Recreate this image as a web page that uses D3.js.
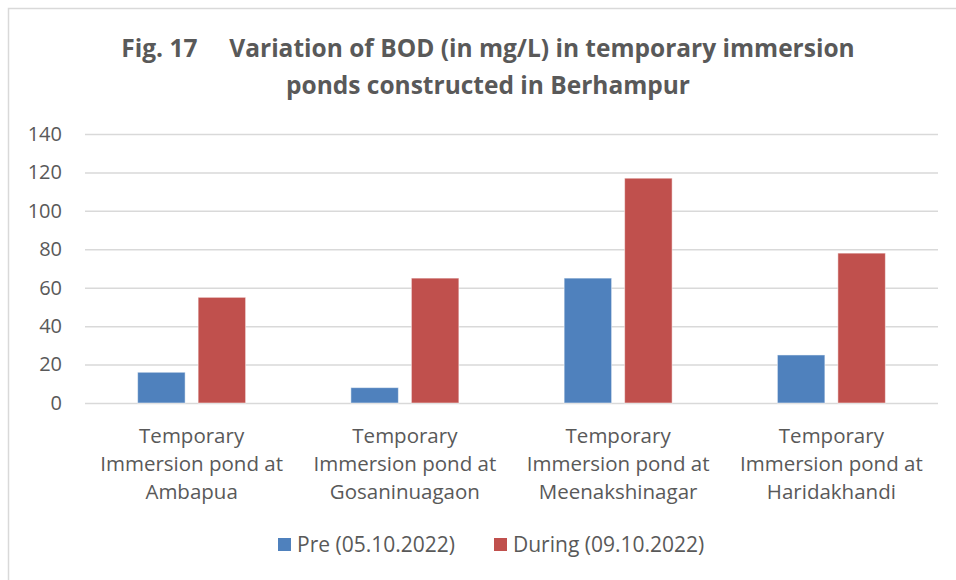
<!DOCTYPE html>
<html>
<head>
<meta charset="utf-8">
<script src="https://cdn.jsdelivr.net/npm/d3@7"></script>
<style>
  html, body { margin: 0; padding: 0; background: #fff; }
  svg { display: block; }
  text { font-family: "Open Sans", "Noto Sans", sans-serif; fill: #595959; }
</style>
</head>
<body>
<svg id="chart" width="956" height="580"></svg>
<script>
const categories = [
  ["Temporary", "Immersion pond at", "Ambapua"],
  ["Temporary", "Immersion pond at", "Gosaninuagaon"],
  ["Temporary", "Immersion pond at", "Meenakshinagar"],
  ["Temporary", "Immersion pond at", "Haridakhandi"]
];
const categoryKeys = ["Ambapua", "Gosaninuagaon", "Meenakshinagar", "Haridakhandi"];
const seriesNames = ["Pre (05.10.2022)", "During (09.10.2022)"];
const preValues = [16, 8, 65, 25];
const duringValues = [55, 65, 117, 78];
const yTicks = [0, 20, 40, 60, 80, 100, 120, 140];
const titleLines = ["Fig. 17     Variation of BOD (in mg/L) in temporary immersion", "ponds constructed in Berhampur"];
const colors = ["#4f81bd", "#c0504d"];

const svg = d3.select("#chart");
const W = 956, H = 580;
const margin = { left: 85, right: 18, top: 134, bottom: 177 };

// outer frame
svg.append("rect")
  .attr("x", 8.5).attr("y", 8.5)
  .attr("width", W + 10).attr("height", H + 10)
  .attr("fill", "#fff").attr("stroke", "#d9d9d9").attr("stroke-width", 1.5);

// title
const title = svg.append("text")
  .attr("text-anchor", "middle")
  .attr("font-weight", "bold")
  .attr("font-size", 24.5)
  .style("white-space", "pre")
  .attr("xml:space", "preserve");
titleLines.forEach((t, i) => {
  title.append("tspan").attr("x", 488).attr("y", 57 + i * 37).text(t);
});

const x0 = d3.scaleBand().domain(categoryKeys).range([margin.left, W - margin.right]).paddingInner(0).paddingOuter(0);
const x1 = d3.scaleBand().domain([0, 1]).range([0, x0.bandwidth()]).paddingInner(0.215).paddingOuter(0.87);
const y = d3.scaleLinear().domain([0, 140]).range([H - margin.bottom, margin.top]);

// gridlines
svg.append("g")
  .attr("transform", `translate(${margin.left},0)`)
  .call(d3.axisLeft(y).tickValues(yTicks).tickSize(-(W - margin.left - margin.right)).tickFormat(""))
  .call(g => g.select(".domain").remove())
  .call(g => g.selectAll("line").attr("stroke", "#d9d9d9").attr("stroke-width", 1.5));

// y labels
svg.append("g")
  .attr("transform", `translate(${margin.left},0)`)
  .call(d3.axisLeft(y).tickValues(yTicks).tickSize(0).tickPadding(23))
  .call(g => g.select(".domain").remove())
  .call(g => g.selectAll("text").attr("font-size", 20).attr("fill", "#595959")
    .style("font-family", '"Open Sans", sans-serif'));

// bars
const data = categoryKeys.map((k, i) => ({ key: k, vals: [preValues[i], duringValues[i]] }));
const groups = svg.append("g").selectAll("g").data(data).join("g")
  .attr("transform", d => `translate(${x0(d.key)},0)`);
groups.selectAll("rect").data(d => d.vals.map((v, s) => ({ v, s }))).join("rect")
  .attr("x", d => x1(d.s))
  .attr("width", x1.bandwidth())
  .attr("y", d => y(d.v))
  .attr("height", d => y(0) - y(d.v))
  .attr("fill", d => colors[d.s])
  .attr("stroke", "#fff").attr("stroke-opacity", 0.5).attr("stroke-width", 1);

// x labels
const xl = svg.append("g");
categories.forEach((lines, i) => {
  const cx = x0(categoryKeys[i]) + x0.bandwidth() / 2;
  const t = xl.append("text").attr("text-anchor", "middle").attr("font-size", 20.5);
  lines.forEach((ln, j) => {
    t.append("tspan").attr("x", cx).attr("y", 443 + j * 28).text(ln);
  });
});

// legend
const legend = svg.append("g");
const legendX = [278, 494];
seriesNames.forEach((n, i) => {
  legend.append("rect").attr("x", legendX[i]).attr("y", 538).attr("width", 13).attr("height", 13).attr("fill", colors[i]);
  legend.append("text").attr("x", legendX[i] + 19).attr("y", 552).attr("font-size", 21).text(n);
});
</script>
</body>
</html>
